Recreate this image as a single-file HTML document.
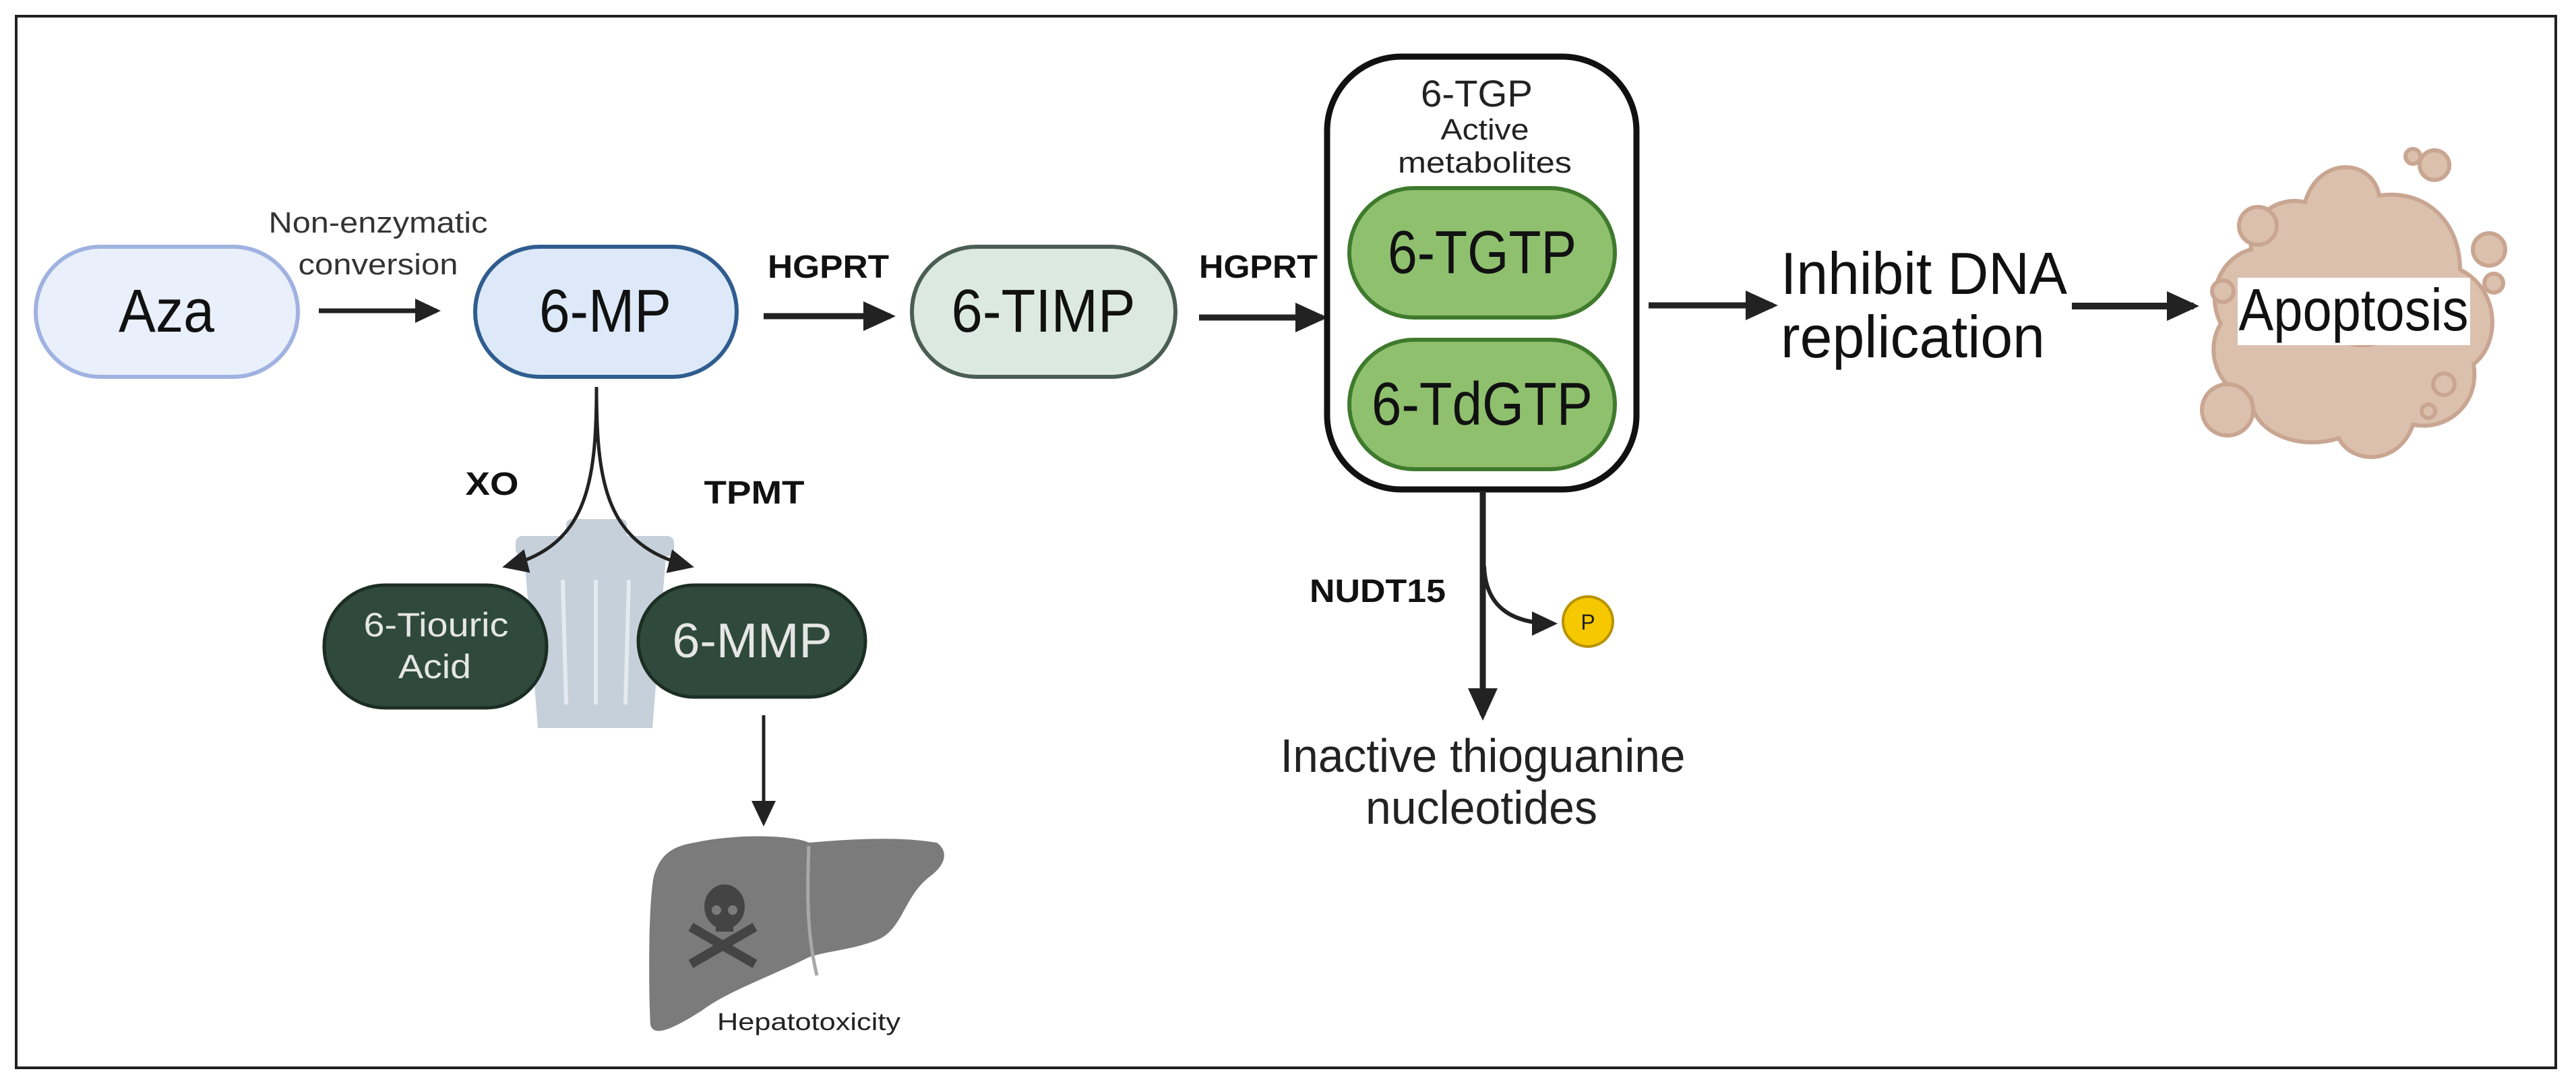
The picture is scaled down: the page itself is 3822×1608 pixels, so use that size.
<!DOCTYPE html>
<html><head><meta charset="utf-8"><style>html,body{margin:0;padding:0;background:#fff}svg{display:block}text{font-family:"Liberation Sans",sans-serif}</style></head>
<body>
<svg width="3822" height="1608" viewBox="0 0 3822 1608" xmlns="http://www.w3.org/2000/svg">
<defs>
<marker id="ah" markerWidth="48" markerHeight="44" refX="40" refY="22" orient="auto" markerUnits="userSpaceOnUse"><path d="M0,0 L48,22 L0,44 z" fill="#222"/></marker>
<marker id="ah2" markerWidth="38" markerHeight="36" refX="32" refY="18" orient="auto" markerUnits="userSpaceOnUse"><path d="M0,0 L38,18 L0,36 z" fill="#222"/></marker>
</defs>
<rect x="24" y="24" width="3768" height="1560" fill="#fff" stroke="#222" stroke-width="4"/>

<!-- Aza -->
<rect x="53" y="366" width="389" height="193" rx="96" fill="#e9effb" stroke="#9fb2e0" stroke-width="6"/>
<text x="247" y="492" font-size="90" text-anchor="middle" textLength="142" lengthAdjust="spacingAndGlyphs" fill="#111">Aza</text>
<text x="561" y="345" font-size="44" text-anchor="middle" textLength="325" lengthAdjust="spacingAndGlyphs" fill="#333">Non-enzymatic</text>
<text x="561" y="407" font-size="44" text-anchor="middle" textLength="237" lengthAdjust="spacingAndGlyphs" fill="#333">conversion</text>
<line x1="473" y1="461" x2="648" y2="461" stroke="#222" stroke-width="7" marker-end="url(#ah2)"/>

<!-- 6-MP -->
<rect x="705" y="366" width="388" height="193" rx="96" fill="#dde9f8" stroke="#2f5d8f" stroke-width="6"/>
<text x="898" y="492" font-size="90" text-anchor="middle" textLength="196" lengthAdjust="spacingAndGlyphs" fill="#111">6-MP</text>

<text x="1229" y="412" font-size="48" font-weight="bold" text-anchor="middle" textLength="180" lengthAdjust="spacingAndGlyphs" fill="#111">HGPRT</text>
<line x1="1133" y1="469" x2="1321" y2="469" stroke="#222" stroke-width="9" marker-end="url(#ah)"/>

<!-- 6-TIMP -->
<rect x="1353" y="366" width="391" height="193" rx="96" fill="#dce8e2" stroke="#4a5e55" stroke-width="6"/>
<text x="1548" y="492" font-size="90" text-anchor="middle" textLength="273" lengthAdjust="spacingAndGlyphs" fill="#111">6-TIMP</text>

<text x="1867" y="412" font-size="48" font-weight="bold" text-anchor="middle" textLength="176" lengthAdjust="spacingAndGlyphs" fill="#111">HGPRT</text>
<line x1="1779" y1="471" x2="1962" y2="471" stroke="#222" stroke-width="9" marker-end="url(#ah)"/>

<!-- TGP box -->
<rect x="1969" y="84" width="459" height="642" rx="110" fill="#fff" stroke="#111" stroke-width="9"/>
<text x="2191" y="158" font-size="56" text-anchor="middle" textLength="166" lengthAdjust="spacingAndGlyphs" fill="#222">6-TGP</text>
<text x="2203" y="207" font-size="44" text-anchor="middle" textLength="131" lengthAdjust="spacingAndGlyphs" fill="#222">Active</text>
<text x="2203" y="256" font-size="44" text-anchor="middle" textLength="258" lengthAdjust="spacingAndGlyphs" fill="#222">metabolites</text>
<rect x="2002" y="279" width="394" height="192" rx="96" fill="#8fc06e" stroke="#3f7a2d" stroke-width="6"/>
<text x="2199" y="405" font-size="90" text-anchor="middle" textLength="280" lengthAdjust="spacingAndGlyphs" fill="#111">6-TGTP</text>
<rect x="2002" y="504" width="394" height="192" rx="96" fill="#8fc06e" stroke="#3f7a2d" stroke-width="6"/>
<text x="2199" y="630" font-size="90" text-anchor="middle" textLength="328" lengthAdjust="spacingAndGlyphs" fill="#111">6-TdGTP</text>

<line x1="2446" y1="453" x2="2630" y2="453" stroke="#222" stroke-width="9" marker-end="url(#ah)"/>
<text x="2642" y="436" font-size="88" textLength="425" lengthAdjust="spacingAndGlyphs" fill="#111">Inhibit DNA</text>
<text x="2642" y="530" font-size="88" textLength="392" lengthAdjust="spacingAndGlyphs" fill="#111">replication</text>
<line x1="3074" y1="454" x2="3255" y2="454" stroke="#222" stroke-width="10" marker-end="url(#ah)"/>

<!-- Apoptosis cell -->
<g fill="#dcc0ae" stroke="#c9a692" stroke-width="6">
<path d="M3420,300 C3440,230 3520,235 3530,290 C3600,280 3650,330 3650,400 C3710,430 3710,510 3670,540 C3680,600 3630,640 3580,630 C3560,690 3490,690 3470,650 C3410,670 3340,640 3340,590 C3290,580 3270,520 3295,480 C3270,430 3300,380 3340,370 C3335,320 3380,290 3420,300 Z"/>
<circle cx="3350" cy="335" r="28"/><circle cx="3612" cy="245" r="22"/><circle cx="3580" cy="232" r="11"/>
<circle cx="3693" cy="370" r="24"/><circle cx="3700" cy="420" r="14"/><circle cx="3298" cy="432" r="16"/>
<circle cx="3305" cy="608" r="38"/><circle cx="3626" cy="570" r="16"/><circle cx="3603" cy="610" r="10"/>
</g>
<ellipse cx="3505" cy="470" rx="60" ry="45" fill="#c9a28e"/>
<rect x="3320" y="412" width="345" height="100" fill="#fff"/>
<text x="3492" y="490" font-size="88" text-anchor="middle" textLength="341" lengthAdjust="spacingAndGlyphs" fill="#111">Apoptosis</text>

<!-- NUDT15 branch -->
<line x1="2200" y1="728" x2="2200" y2="1061" stroke="#222" stroke-width="9" marker-end="url(#ah)"/>
<path d="M2202,840 Q2205,925 2305,925" fill="none" stroke="#222" stroke-width="6" marker-end="url(#ah2)"/>
<circle cx="2356" cy="922" r="37" fill="#f5c800" stroke="#b89200" stroke-width="4"/>
<text x="2356" y="934" font-size="32" text-anchor="middle" fill="#222">P</text>
<text x="2044" y="893" font-size="48" font-weight="bold" text-anchor="middle" textLength="202" lengthAdjust="spacingAndGlyphs" fill="#111">NUDT15</text>
<text x="2200" y="1145" font-size="70" text-anchor="middle" textLength="601" lengthAdjust="spacingAndGlyphs" fill="#222">Inactive thioguanine</text>
<text x="2198" y="1222" font-size="70" text-anchor="middle" textLength="344" lengthAdjust="spacingAndGlyphs" fill="#222">nucleotides</text>

<!-- trash can -->
<g fill="#c5d0da">
<rect x="765" y="795" width="235" height="30" rx="10"/>
<rect x="840" y="770" width="90" height="30" rx="8"/>
<path d="M778,825 L988,825 L968,1080 L798,1080 Z"/>
</g>
<g stroke="#e4eaf0" stroke-width="6"><line x1="835" y1="860" x2="840" y2="1045"/><line x1="884" y1="860" x2="884" y2="1045"/><line x1="933" y1="860" x2="928" y2="1045"/></g>

<!-- XO / TPMT curves -->
<path d="M885,574 C885,720 870,810 751,840" fill="none" stroke="#222" stroke-width="5" marker-end="url(#ah2)"/>
<path d="M885,574 C885,720 900,810 1024,840" fill="none" stroke="#222" stroke-width="5" marker-end="url(#ah2)"/>
<text x="730" y="734" font-size="48" font-weight="bold" text-anchor="middle" textLength="79" lengthAdjust="spacingAndGlyphs" fill="#111">XO</text>
<text x="1119" y="747" font-size="48" font-weight="bold" text-anchor="middle" textLength="149" lengthAdjust="spacingAndGlyphs" fill="#111">TPMT</text>

<rect x="481" y="868" width="330" height="182" rx="90" fill="#2f4a3c" stroke="#1c2e24" stroke-width="5"/>
<text x="647" y="944" font-size="50" text-anchor="middle" textLength="215" lengthAdjust="spacingAndGlyphs" fill="#e6e6e6">6-Tiouric</text>
<text x="645" y="1006" font-size="50" text-anchor="middle" textLength="108" lengthAdjust="spacingAndGlyphs" fill="#e6e6e6">Acid</text>
<rect x="947" y="868" width="337" height="166" rx="83" fill="#2f4a3c" stroke="#1c2e24" stroke-width="5"/>
<text x="1116" y="975" font-size="72" text-anchor="middle" textLength="237" lengthAdjust="spacingAndGlyphs" fill="#e6e6e6">6-MMP</text>

<line x1="1133" y1="1061" x2="1133" y2="1220" stroke="#222" stroke-width="5" marker-end="url(#ah2)"/>

<!-- liver -->
<path d="M1030,1250 C1100,1235 1180,1240 1200,1250 C1260,1245 1330,1240 1390,1250 C1410,1265 1400,1285 1380,1300 C1340,1330 1340,1380 1300,1395 C1260,1410 1230,1410 1200,1420 C1140,1450 1080,1470 1040,1500 C1000,1525 970,1540 965,1520 C962,1460 962,1340 970,1300 C980,1265 1000,1255 1030,1250 Z" fill="#7b7b7b"/>
<path d="M1200,1255 C1198,1320 1196,1380 1212,1447" fill="none" stroke="#a8a8a8" stroke-width="5"/>
<g fill="#444">
<ellipse cx="1075" cy="1345" rx="30" ry="33"/>
<rect x="1062" y="1360" width="26" height="22"/>
<path d="M1025,1375 L1120,1430" stroke="#444" stroke-width="14"/>
<path d="M1120,1375 L1025,1430" stroke="#444" stroke-width="14"/>
</g>
<circle cx="1063" cy="1350" r="7" fill="#7b7b7b"/><circle cx="1087" cy="1350" r="7" fill="#7b7b7b"/>
<text x="1200" y="1528" font-size="36" text-anchor="middle" textLength="272" lengthAdjust="spacingAndGlyphs" fill="#222">Hepatotoxicity</text>
</svg>
</body></html>
